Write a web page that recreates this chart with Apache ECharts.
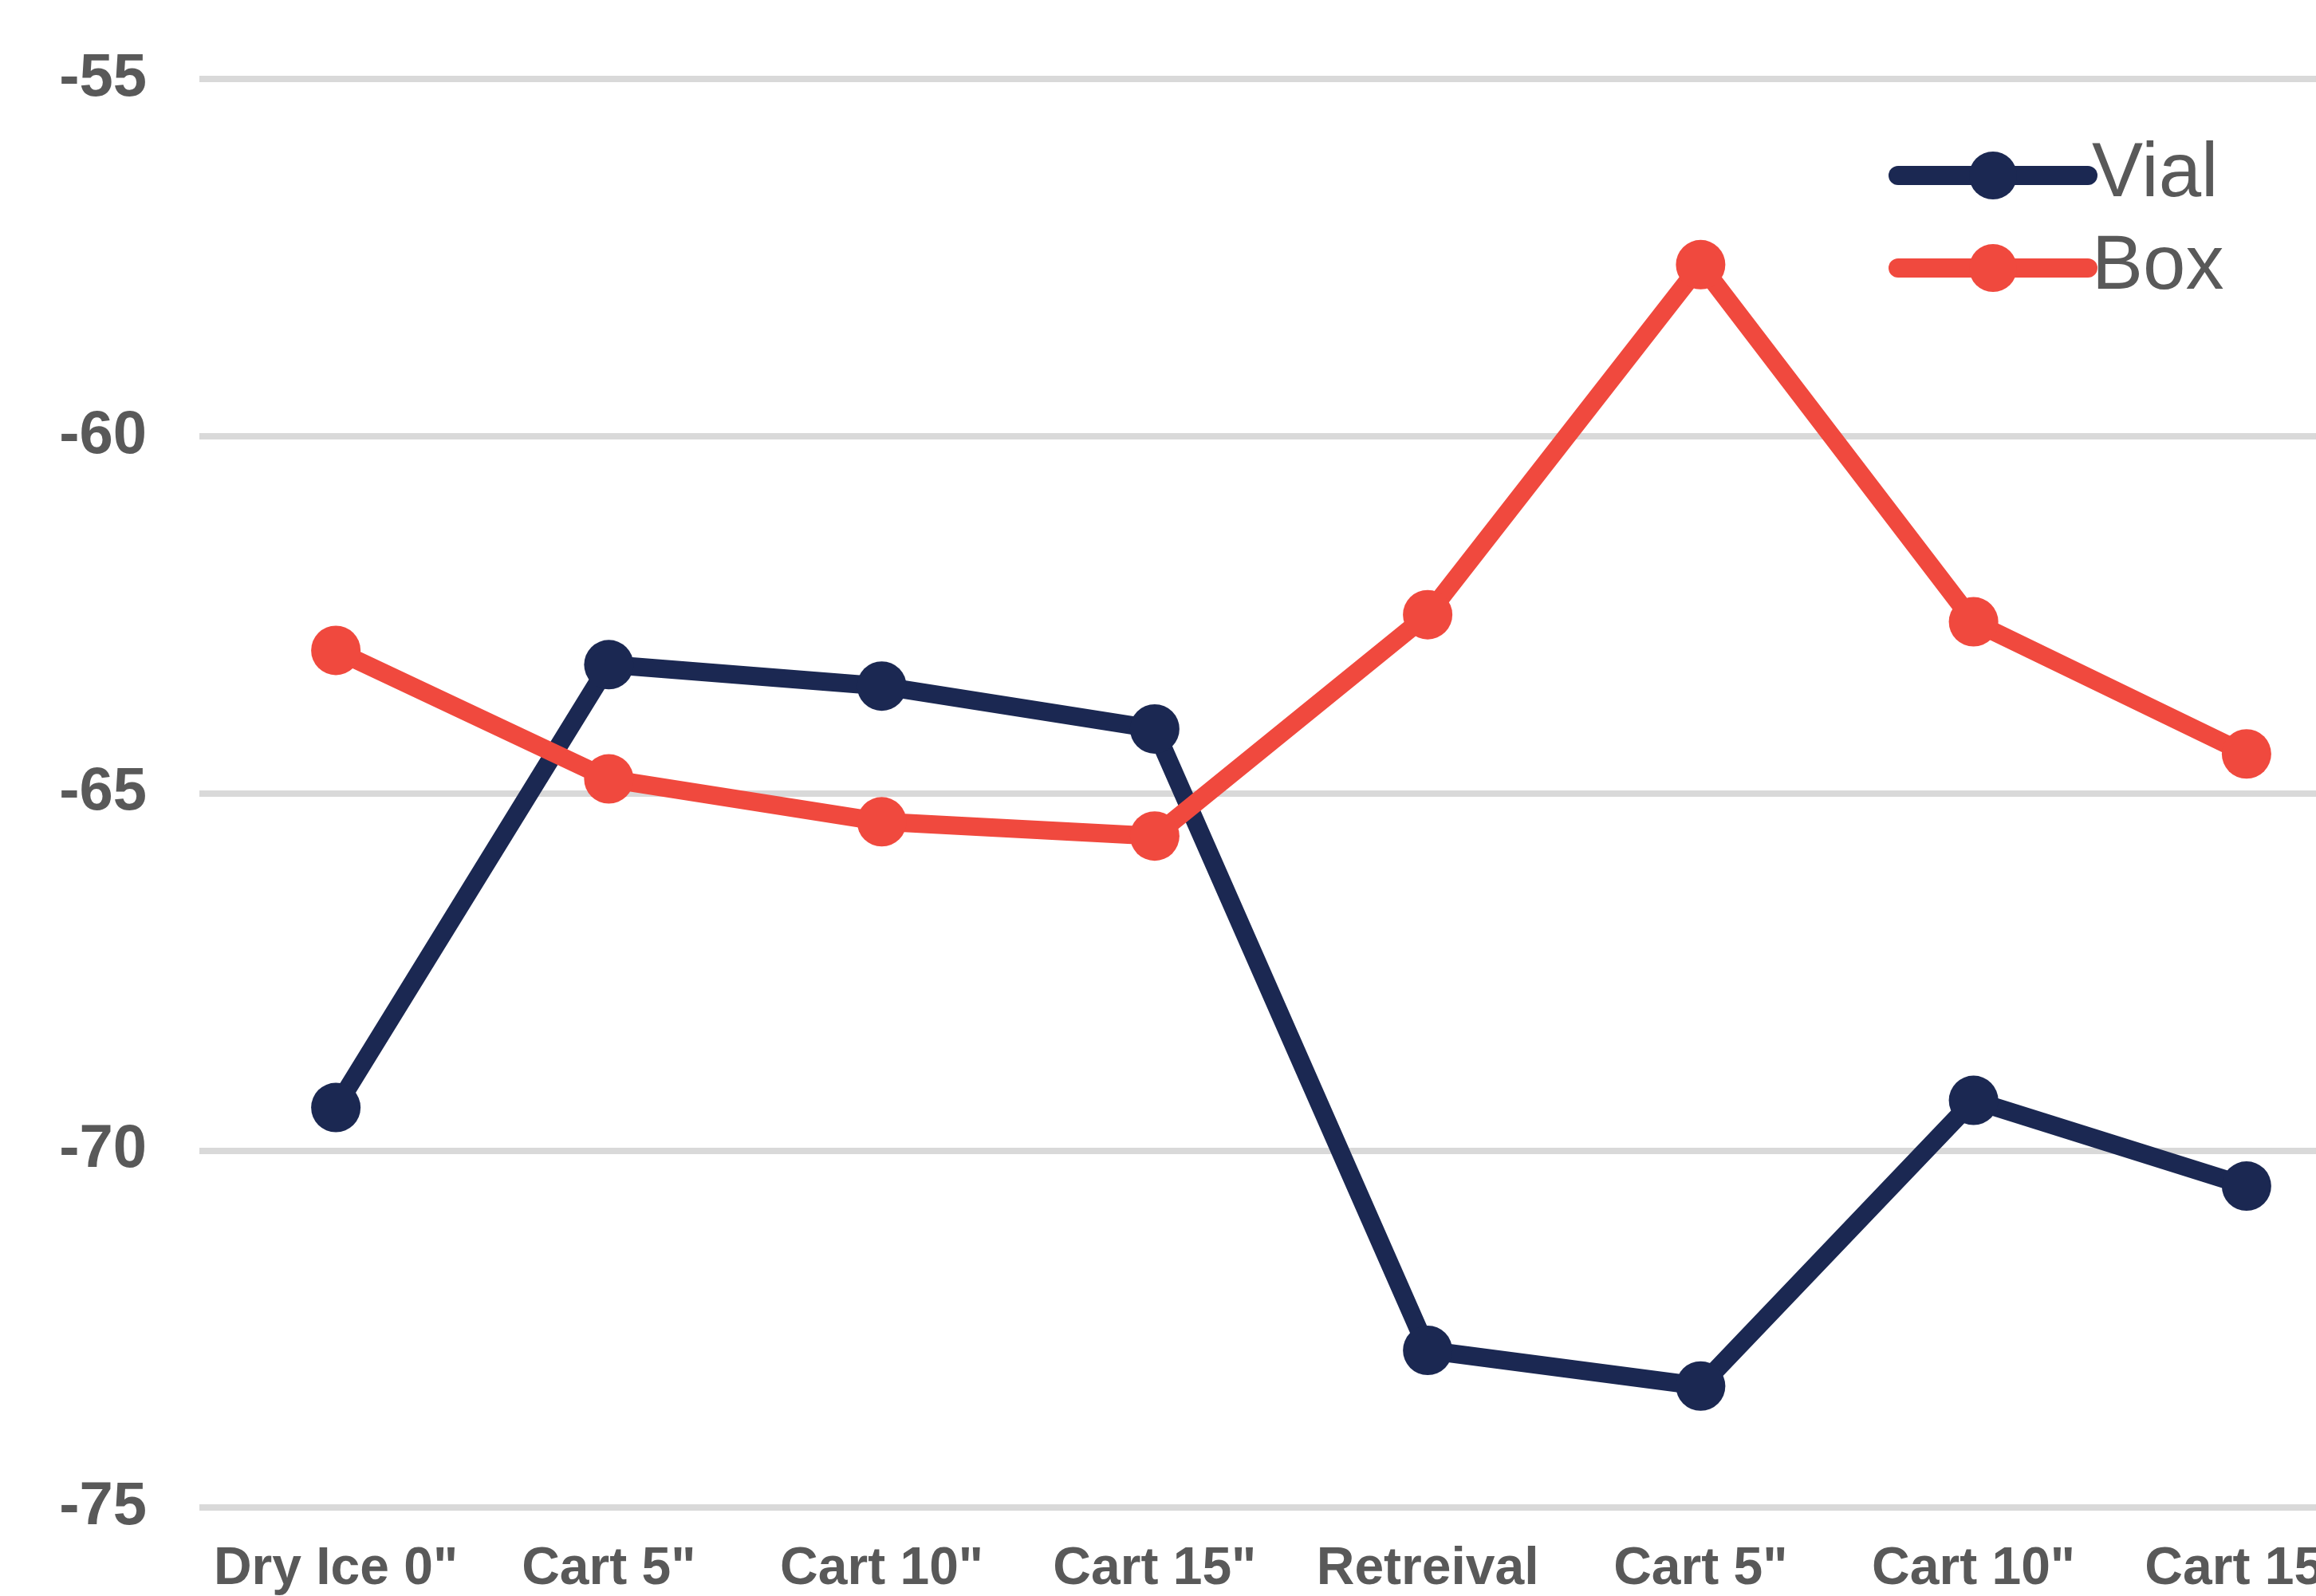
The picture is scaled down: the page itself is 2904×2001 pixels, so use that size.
<!DOCTYPE html>
<html>
<head>
<meta charset="utf-8">
<script src="https://cdn.jsdelivr.net/npm/echarts@6/dist/echarts.min.js"></script>
<style>
html,body{margin:0;padding:0;background:#fff;overflow:hidden;width:2904px;height:2001px;}
#chart{width:2988px;height:2001px;}
</style>
</head>
<body>
<div id="chart"></div>
<script>
const categories = ['Dry Ice 0"', 'Cart 5"', 'Cart 10"', 'Cart 15"', 'Retreival', 'Cart 5"', 'Cart 10"', 'Cart 15"'];
const vialValues = [-69.4, -63.2, -63.5, -64.1, -72.8, -73.3, -69.3, -70.5];
const boxValues = [-63.0, -64.8, -65.4, -65.6, -62.5, -57.6, -62.6, -64.45];
const yTicks = { min: -75, max: -55, interval: 5 };

const NAVY = '#1b2852';
const RED = '#f0493e';
const TXT = '#595959';
const FONT = '"Liberation Sans", Arial, sans-serif';

const chart = echarts.init(document.getElementById('chart'), null, { renderer: 'canvas' });
chart.setOption({
  animation: false,
  backgroundColor: '#ffffff',
  grid: { left: 250, right: 0, top: 99, bottom: 105, containLabel: false },
  legend: {
    orient: 'vertical',
    left: 2368,
    top: 172,
    padding: 0,
    itemWidth: 238,
    itemHeight: 75,
    itemGap: 20,
    lineStyle: { width: 24, cap: 'round' },
    textStyle: { fontFamily: FONT, fontSize: 96, color: TXT },
    data: ['Vial', 'Box']
  },
  xAxis: {
    type: 'category',
    data: categories,
    boundaryGap: true,
    axisLine: { show: false },
    axisTick: { show: false },
    axisLabel: {
      interval: 0,
      margin: 45,
      fontFamily: FONT,
      fontSize: 66,
      fontWeight: 'bold',
      color: TXT
    },
    splitLine: { show: false }
  },
  yAxis: {
    type: 'value',
    min: yTicks.min,
    max: yTicks.max,
    interval: yTicks.interval,
    axisLine: { show: false },
    axisTick: { show: false },
    axisLabel: {
      margin: 66,
      fontFamily: FONT,
      fontSize: 76,
      fontWeight: 'bold',
      color: TXT
    },
    splitLine: { show: true, lineStyle: { color: '#d9d9d9', width: 8 } }
  },
  series: [
    {
      name: 'Vial',
      type: 'line',
      data: vialValues,
      symbol: 'circle',
      symbolSize: 62,
      color: NAVY,
      lineStyle: { color: NAVY, width: 23, cap: 'round', join: 'round' },
      itemStyle: { color: NAVY }
    },
    {
      name: 'Box',
      type: 'line',
      data: boxValues,
      symbol: 'circle',
      symbolSize: 62,
      color: RED,
      lineStyle: { color: RED, width: 23, cap: 'round', join: 'round' },
      itemStyle: { color: RED }
    }
  ]
});
</script>
</body>
</html>
